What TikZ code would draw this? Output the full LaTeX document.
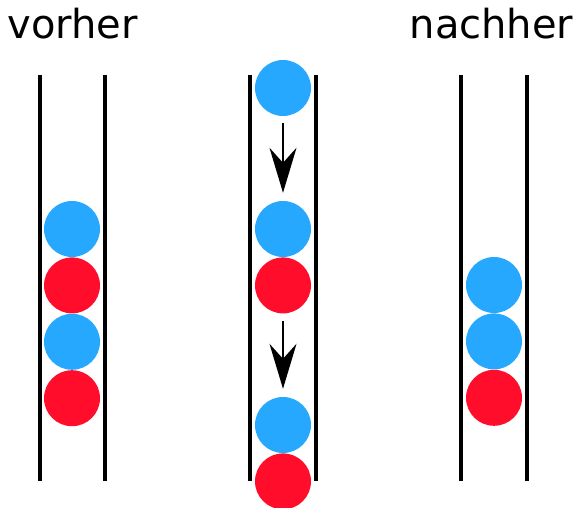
\documentclass[tikz,border=0pt]{standalone}
\usepackage{fontspec}
\setmainfont{DejaVu Sans}
\usetikzlibrary{arrows.meta,positioning}
\definecolor{ballblue}{RGB}{38,168,255}
\definecolor{ballred}{RGB}{255,13,42}
\tikzset{
  ball/.style={circle,minimum size=56pt,inner sep=0pt},
  blueball/.style={ball,fill=ballblue},
  redball/.style={ball,fill=ballred},
  wall/.style={line width=4pt},
  drop/.style={line width=2pt,shorten <=7pt,shorten >=8pt,
    -{Stealth[length=45pt,width=27pt,inset=15pt]}},
  title/.style={anchor=base west,inner sep=0pt,font=\fontsize{40}{46}\selectfont},
  stack/.style={below=0pt of #1}
}

\begin{document}
\begin{tikzpicture}[x=1pt,y=-1pt]
  \useasboundingbox (0,0) rectangle (574,508);
  % tube walls
  \foreach \x in {39.5,105,250,316,461,527}
    \draw[wall] (\x,75) -- (\x,481);
  % titles
  \node[title] (vorher) at (7.5,39) {vorher};
  \node[title] (nachher) at (409.5,39) {nachher};
  % before
  \node[blueball] (v1) at (72,229) {};
  \node[redball,stack=v1] (v2) {};
  \node[blueball,stack=v2] (v3) {};
  \node[redball,stack=v3] (v4) {};
  % in between
  \node[blueball] (t1) at (283,88) {};
  \node[blueball] (m1) at (283,229) {};
  \node[redball,stack=m1] (m2) {};
  \node[blueball] (b1) at (283,425) {};
  \node[redball,stack=b1] (b2) {};
  \draw[drop] (t1) -- (m1);
  \draw[drop] (m2) -- (b1);
  % after
  \node[blueball] (n1) at (494,285) {};
  \node[blueball,stack=n1] (n2) {};
  \node[redball,stack=n2] (n3) {};
\end{tikzpicture}
\end{document}
